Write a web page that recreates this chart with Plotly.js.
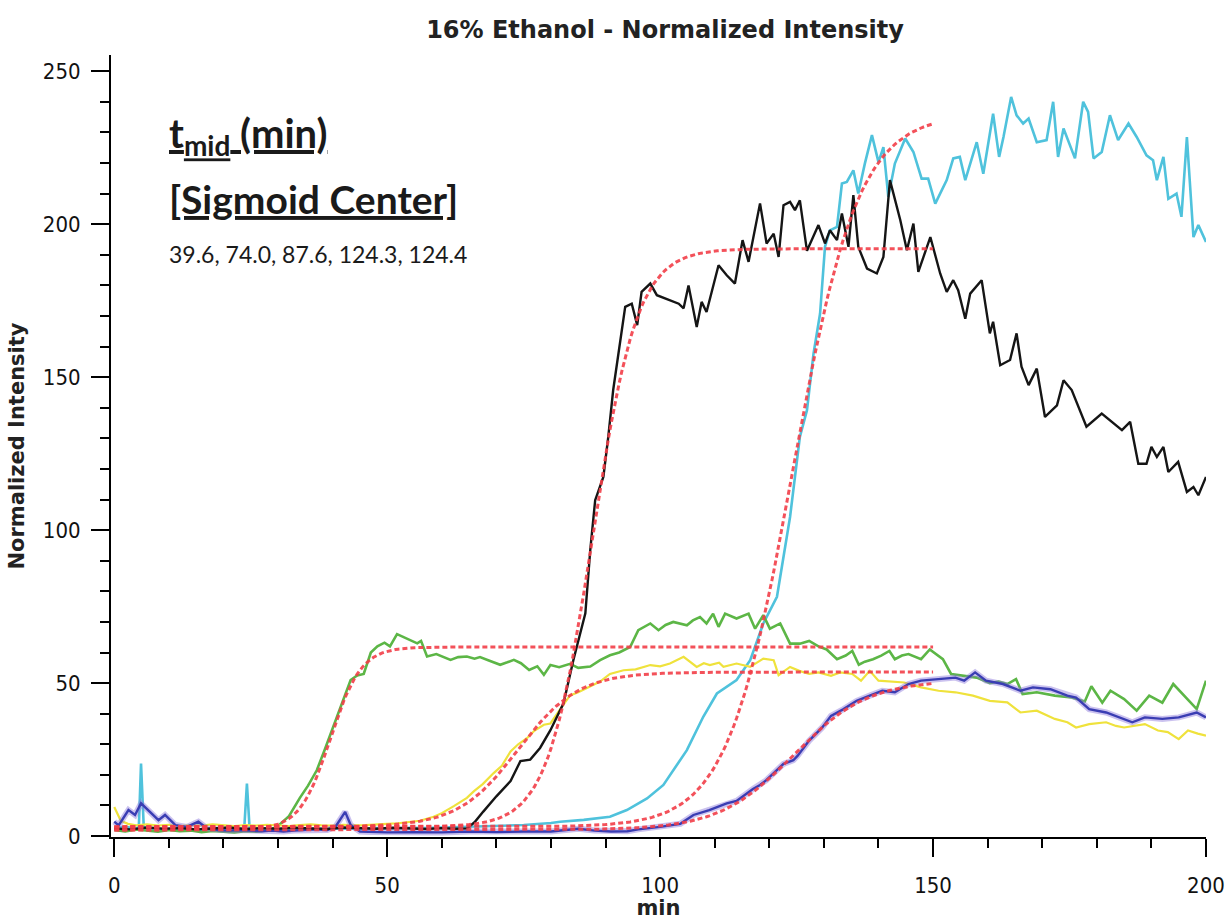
<!DOCTYPE html>
<html>
<head>
<meta charset="utf-8">
<script src="https://cdn.plot.ly/plotly-3.0.1.min.js"></script>
<style>
  html, body { margin: 0; padding: 0; background: #fff; }
  #chart { width: 1227px; height: 920px; }
</style>
</head>
<body>
<div id="chart"></div>
<script>
// Measured intensity traces (time in min, normalized intensity)
const greenX = [0,2,4,6,8,10,12,14,16,18,20,22,24,26,28,29.8,32,34,35.5,37.1,38.5,40.2,41.5,43.3,44.5,45.7,47,48.2,49.5,50.5,51.8,53,54.3,55.5,56.2,57.3,59,60.5,61.6,63,64.6,66,67,68.5,70.7,72,73.2,74.5,76,77.5,78.7,79.9,81.5,83.5,85,87.2,89,90.8,92.5,94.5,96,98.2,99.7,101,102.4,104.9,106,107.3,108.5,109.7,110.7,111.9,114,116.2,117.4,118.9,120.1,122,123.8,125.6,127.3,129,130.5,132.4,134,135.2,136.4,137.5,139,140.5,142,143,144.3,145.5,147.8,149.4,150.5,151.8,153.3,155.7,158,160.4,162,163.6,165.2,166.4,169,172.3,175.4,177.8,179,181,182.5,185,187.3,189.6,192,194,196,198.3,200];
const greenY = [2,1.5,2.2,1.8,1.4,2,1.6,1.8,1.3,1.7,1.5,1.2,1.6,1.4,1.8,3,6.5,12.5,16.5,21.5,28,36,42,51,52.5,53,60,62,63.2,62,66,65,64,63,63.8,58.7,59.5,58.5,57.6,58.5,58.7,58,58.5,57.5,56,56.8,57.6,56.5,54.3,55.5,52.7,55.9,55.2,56.3,55,55.4,57.5,59.1,60,61.8,67.3,69.5,67.3,69,70,68.9,70.5,71.6,69.5,72.7,68.4,72.7,71.1,72.7,67.8,72.2,67.8,69.5,62.9,62.9,63.8,62,61,57.8,59,60.5,56,57,57.8,59,60.5,57.8,59,59.5,57.8,61,59.5,57.8,53,52.4,51.8,50,50.5,49.7,51.3,46.4,47,45.9,45.3,44,49,43.6,47.5,44.8,41,45.9,43.6,49.7,45.9,41.5,50.8];

const yellowX = [0,1.2,2.5,4,6,8,10,12,14,16,18,20,22,24,26,28,30,32,34,36,38,40,42,44,46,48,50,52,54,56,58.5,60,62.2,64.6,65.9,67.5,69.5,71,72.6,74,75.6,77,78.7,79.9,81.7,83.5,85,87.2,89,90.8,93.3,95.5,98.2,100,101.8,104.3,106.7,108,109.1,110.8,111.6,114,116.5,118.9,120.8,121.7,123.8,125.5,127.3,129,131.3,133,135.2,136.8,138.4,140,142,144.7,147.8,151,154.1,157.3,160.4,163.6,166,169,172.3,174.6,176.2,178.6,181.7,183.5,185,188.8,191.2,193,195,196.7,198.5,200];
const yellowY = [9.5,5,4,3.5,3.8,3.4,3.7,3.3,3.6,3.4,3.8,3.5,3.3,3.6,3.4,3.7,3.5,3.3,3.6,3.8,3.5,3.4,3.7,3.5,3.6,3.9,4,4.2,4.5,5,6.3,7.5,9.8,12.5,14.7,17,20.6,23,27.7,30,32,34.5,36.4,36.8,41.5,46,47,48.8,50.5,53,54.2,54.5,55.9,55.5,56.4,58.6,55.3,56.5,55.9,56.7,55.3,56.4,55.3,58,57.5,52.6,55.3,54,53,53.5,52.4,53.5,53,50.8,54,50.8,50.5,50.2,48.6,47.5,47,45.9,44.2,43.7,40.4,41,38.3,37.2,35.5,36.6,37.2,36,35.5,36.6,34.5,34,31.7,34.5,33.5,32.8];

const blackX = [0,3,6,9,12,15,18,21,24,27,30,33,36,39,42,45,48,51,54,57,60,62.5,64.6,66,67.6,70,72.6,74.4,76.2,78,79.9,82.3,84.1,86.3,87.2,88.1,89.6,90.5,91.4,92.7,93.6,94.8,95.8,96.6,98.2,99.4,101.8,103.4,104.3,105.2,106.7,107.6,108.5,110.7,112.2,113.7,115.1,116.2,118.3,119.5,120.8,121.7,122.6,123.8,124.7,125.6,126.9,129,130.2,131.1,132.4,133.3,134.5,135.4,136.3,137.9,139.7,140.9,142.1,144,145.2,146.4,147.3,149.5,151.3,152.5,153.7,154.6,155.9,156.8,158.9,160.4,161,162.3,164.1,165.3,166.2,167.5,169,170.5,172.7,173.9,175.4,178.1,180.9,184.6,186.1,187.6,189.1,190,191,192.2,193.1,194.9,196.5,197.7,198.6,200];
const blackY = [2.5,2.2,2.8,2.4,2.6,2.2,2.5,2.8,2.3,2.6,2.4,2.7,2.5,2.3,2.8,2.6,2.4,2.7,2.5,2.3,2.6,2.4,2.5,4.5,8,13,18,24.5,25,28.8,34.6,43.4,57.5,72.8,93.5,109.8,117.4,130.5,145.8,161,173,174,167,177.9,180.6,176.8,175.2,174,172.5,180,166.4,174.6,171.3,186.6,183.3,180.6,194.8,187.7,206.8,193.7,196.9,189.3,206.2,207.3,204.6,207.8,191.3,199.7,193.7,198,194.8,203.5,192.6,209.5,192.6,185.5,183.9,189.3,214.4,201.3,191.5,200.2,184.4,195.8,183.9,177.9,181.7,178.4,169.1,177.3,181.7,164.3,168.1,153.9,155.6,164.3,153.4,147.4,152.8,137,140.8,149,145.8,133.8,138.1,132.7,135.4,121.7,121.7,127.2,123.9,127.2,119,122.3,112.5,114.1,111.4,117.4];

const cyanX = [0,2,4,4.5,4.9,5.4,6,9,12,15,18,21,23.8,24.3,24.8,27,30,33,36,39,42,45,48,51,54,57,60,65,70,75,80,81.7,86,90.8,93.9,97.6,100.6,102.4,103.7,104.9,107.9,110.4,114,116.5,118.9,121.4,123.8,125.6,126.9,128.1,129.3,130.2,131.1,132.4,133.3,134.2,135.4,136.3,137.5,138.8,140,140.9,141.8,143,144.9,146.4,147.9,149.1,150.4,152.5,153.7,154.9,155.9,158,159.2,161,162.1,162.9,164.3,165.3,166.5,167.5,169,170.8,172,172.9,173.9,176,177.5,178.4,179.4,180.9,182.4,183.9,185.8,187.3,189.1,190.3,191,192.2,193.1,194.6,195.5,196.5,197.7,198.6,200];
const cyanY = [2.5,3,2.5,3,23.7,3,2.5,2.2,2.4,2,2.3,2.1,2.2,17.2,2.2,2.1,2.3,2.2,2.4,2.3,2.5,2.4,2.6,2.5,2.7,2.6,2.8,3,3.2,3.6,4.3,4.7,5.3,6.3,8.5,12.3,16.7,21.6,24.8,28.1,39,46.6,51,57.5,69.5,78.2,104.3,130.5,139.2,157.7,170.8,192.6,198,199.1,213.3,213.8,217.6,210,219.8,229.1,220.3,225.2,208.9,219.8,228,223.6,214.9,214.9,206.7,214.4,221.5,222,214.4,226.8,216.5,236.1,222,228.5,241.6,235.6,232.9,234.5,226.8,227.5,240,222,231.3,221.5,240,236.7,221.5,223.6,235.6,227.5,232.9,228.5,222.5,220.9,214.4,222,208.3,210,202.4,228.5,195.8,199.7,194.2];

const blueX = [0,0.8,2.6,3.8,4.9,6.6,8.1,9.3,11.2,13.3,15.4,17,19,21,23,25,27,29,31,33,35,37,39,40.5,42.3,43.3,45,47,50,55,60,65,70,75,80,85,88,91,94,96,100,103.7,106.1,109,112.2,114,117,118.3,119.4,122.6,124.4,125.2,127.3,129.7,131.3,133.6,136,138.4,140.7,143,145.5,147.8,151,154.1,155.7,157.7,159.7,162.8,166,168.3,171.5,174.6,176.2,178.6,181.7,184.1,186.5,188.8,192,195,198.3,200];
const blueY = [4.7,3.5,8.5,6.9,10.7,7.9,5.2,6.9,3.6,3,4.7,2.5,2,1.8,2,1.8,1.6,1.8,1.5,1.8,2,2.2,2,3,7.9,3.6,1.5,1.3,1.2,1.3,1.2,1.5,1.3,1.5,1.5,2.4,1.8,1.5,1.6,2.2,3,4,6.9,8.5,10.7,11.5,15.4,16.7,18.2,23.6,24.8,26.3,31.2,35.5,39.3,41.5,44.2,45.9,47.5,47,49.7,50.8,51.3,51.8,50.8,53.5,50.8,49.7,47.5,48.6,48,45.9,45.3,41.5,40.4,38.8,37.2,38.8,38.3,38.8,40.4,38.8];

// Sigmoid fit parameters, one entry per fitted trace (green, yellow, black, cyan, blue)
const fitCenter = [39.6, 74.0, 87.6, 124.3, 124.4];
const fitBottom = [2, 3, 3, 3, 2];
const fitTop    = [61.8, 53.6, 192, 236, 51];
const fitWidth  = [2.8, 5.5, 4.1, 6.0, 6.8];
const fitEnd = 150;

// Logistic fit curves evaluated from the parameters above
function sigmoidCurve(i) {
  const xs = [], ys = [];
  for (let k = 0; k <= fitEnd * 2; k++) {
    const x = k / 2;
    xs.push(x);
    ys.push(fitBottom[i] + (fitTop[i] - fitBottom[i]) / (1 + Math.exp(-(x - fitCenter[i]) / fitWidth[i])));
  }
  return {x: xs, y: ys};
}

const line = (x, y, color, width) => ({
  x, y, type: 'scatter', mode: 'lines', hoverinfo: 'skip', showlegend: false,
  line: {color, width}
});

const traces = [
  line(cyanX, cyanY, '#4fc2dc', 2.6),
  line(greenX, greenY, '#5cb646', 2.6),
  line(yellowX, yellowY, '#efe23c', 2.2),
  line(blueX, blueY, 'rgba(140,120,220,0.45)', 6),
  line(blueX, blueY, '#3a3db3', 2.4),
  line(blackX, blackY, '#151515', 2.4)
];

fitCenter.forEach((c, i) => {
  const f = sigmoidCurve(i);
  traces.push({
    x: f.x, y: f.y, type: 'scatter', mode: 'lines', hoverinfo: 'skip', showlegend: false,
    line: {color: 'rgba(242,62,72,0.9)', width: 3, dash: '5px,3px'}
  });
});

const sans = '"DejaVu Sans", sans-serif';
const sansCond = '"DejaVu Sans Condensed", "DejaVu Sans", sans-serif';
const tickFont = {family: sansCond, size: 22, color: '#111'};
const noteFont = 'Lato, "Open Sans", sans-serif';

const layout = {
  width: 1227, height: 920,
  margin: {l: 111, r: 21, t: 55, b: 83},
  paper_bgcolor: '#fff', plot_bgcolor: '#fff',
  title: {
    text: '<b>16% Ethanol - Normalized Intensity</b>',
    font: {family: sans, size: 24, color: '#222'},
    x: 0.542, xanchor: 'center', y: 0.968, yanchor: 'middle'
  },
  xaxis: {
    range: [-0.6, 200], showgrid: false, zeroline: false,
    showline: true, linecolor: '#000', linewidth: 2,
    ticks: 'outside', ticklen: 18, tickwidth: 2, tickcolor: '#000',
    tick0: 0, dtick: 50, tickfont: tickFont, ticklabelstandoff: 10,
    minor: {ticks: 'outside', ticklen: 9, tickwidth: 2, tickcolor: '#000', dtick: 10, showgrid: false},
    title: {text: '<b>min</b>', font: {family: sans, size: 21, color: '#222'}, standoff: 0}
  },
  yaxis: {
    range: [-0.3, 255.3], showgrid: false, zeroline: false,
    showline: true, linecolor: '#000', linewidth: 2,
    ticks: 'outside', ticklen: 18, tickwidth: 2, tickcolor: '#000',
    tick0: 0, dtick: 50, tickfont: tickFont, ticklabelstandoff: 6,
    minor: {ticks: 'outside', ticklen: 9, tickwidth: 2, tickcolor: '#000', dtick: 10, showgrid: false},
    title: {text: '<b>Normalized Intensity</b>', font: {family: sans, size: 21, color: '#222'}, standoff: 12}
  },
  annotations: [
    {
      xref: 'paper', yref: 'paper', x: 0.051, y: (837 - 136) / 782, xanchor: 'left', yanchor: 'middle',
      text: '<u><b>t<sub>mid</sub> (min)</b></u>', showarrow: false,
      font: {family: noteFont, size: 40, color: '#1a1a1a'}
    },
    {
      xref: 'paper', yref: 'paper', x: 0.051, y: (837 - 199) / 782, xanchor: 'left', yanchor: 'middle',
      text: '<u><b>[Sigmoid Center]</b></u>', showarrow: false,
      font: {family: noteFont, size: 39, color: '#1a1a1a'}
    },
    {
      xref: 'paper', yref: 'paper', x: 0.051, y: (837 - 254) / 782, xanchor: 'left', yanchor: 'middle',
      text: fitCenter.map(v => v.toFixed(1)).join(', '), showarrow: false,
      font: {family: noteFont, size: 23, color: '#1a1a1a'}
    }
  ]
};

Plotly.newPlot('chart', traces, layout, {displayModeBar: false, staticPlot: true});
</script>
</body>
</html>
